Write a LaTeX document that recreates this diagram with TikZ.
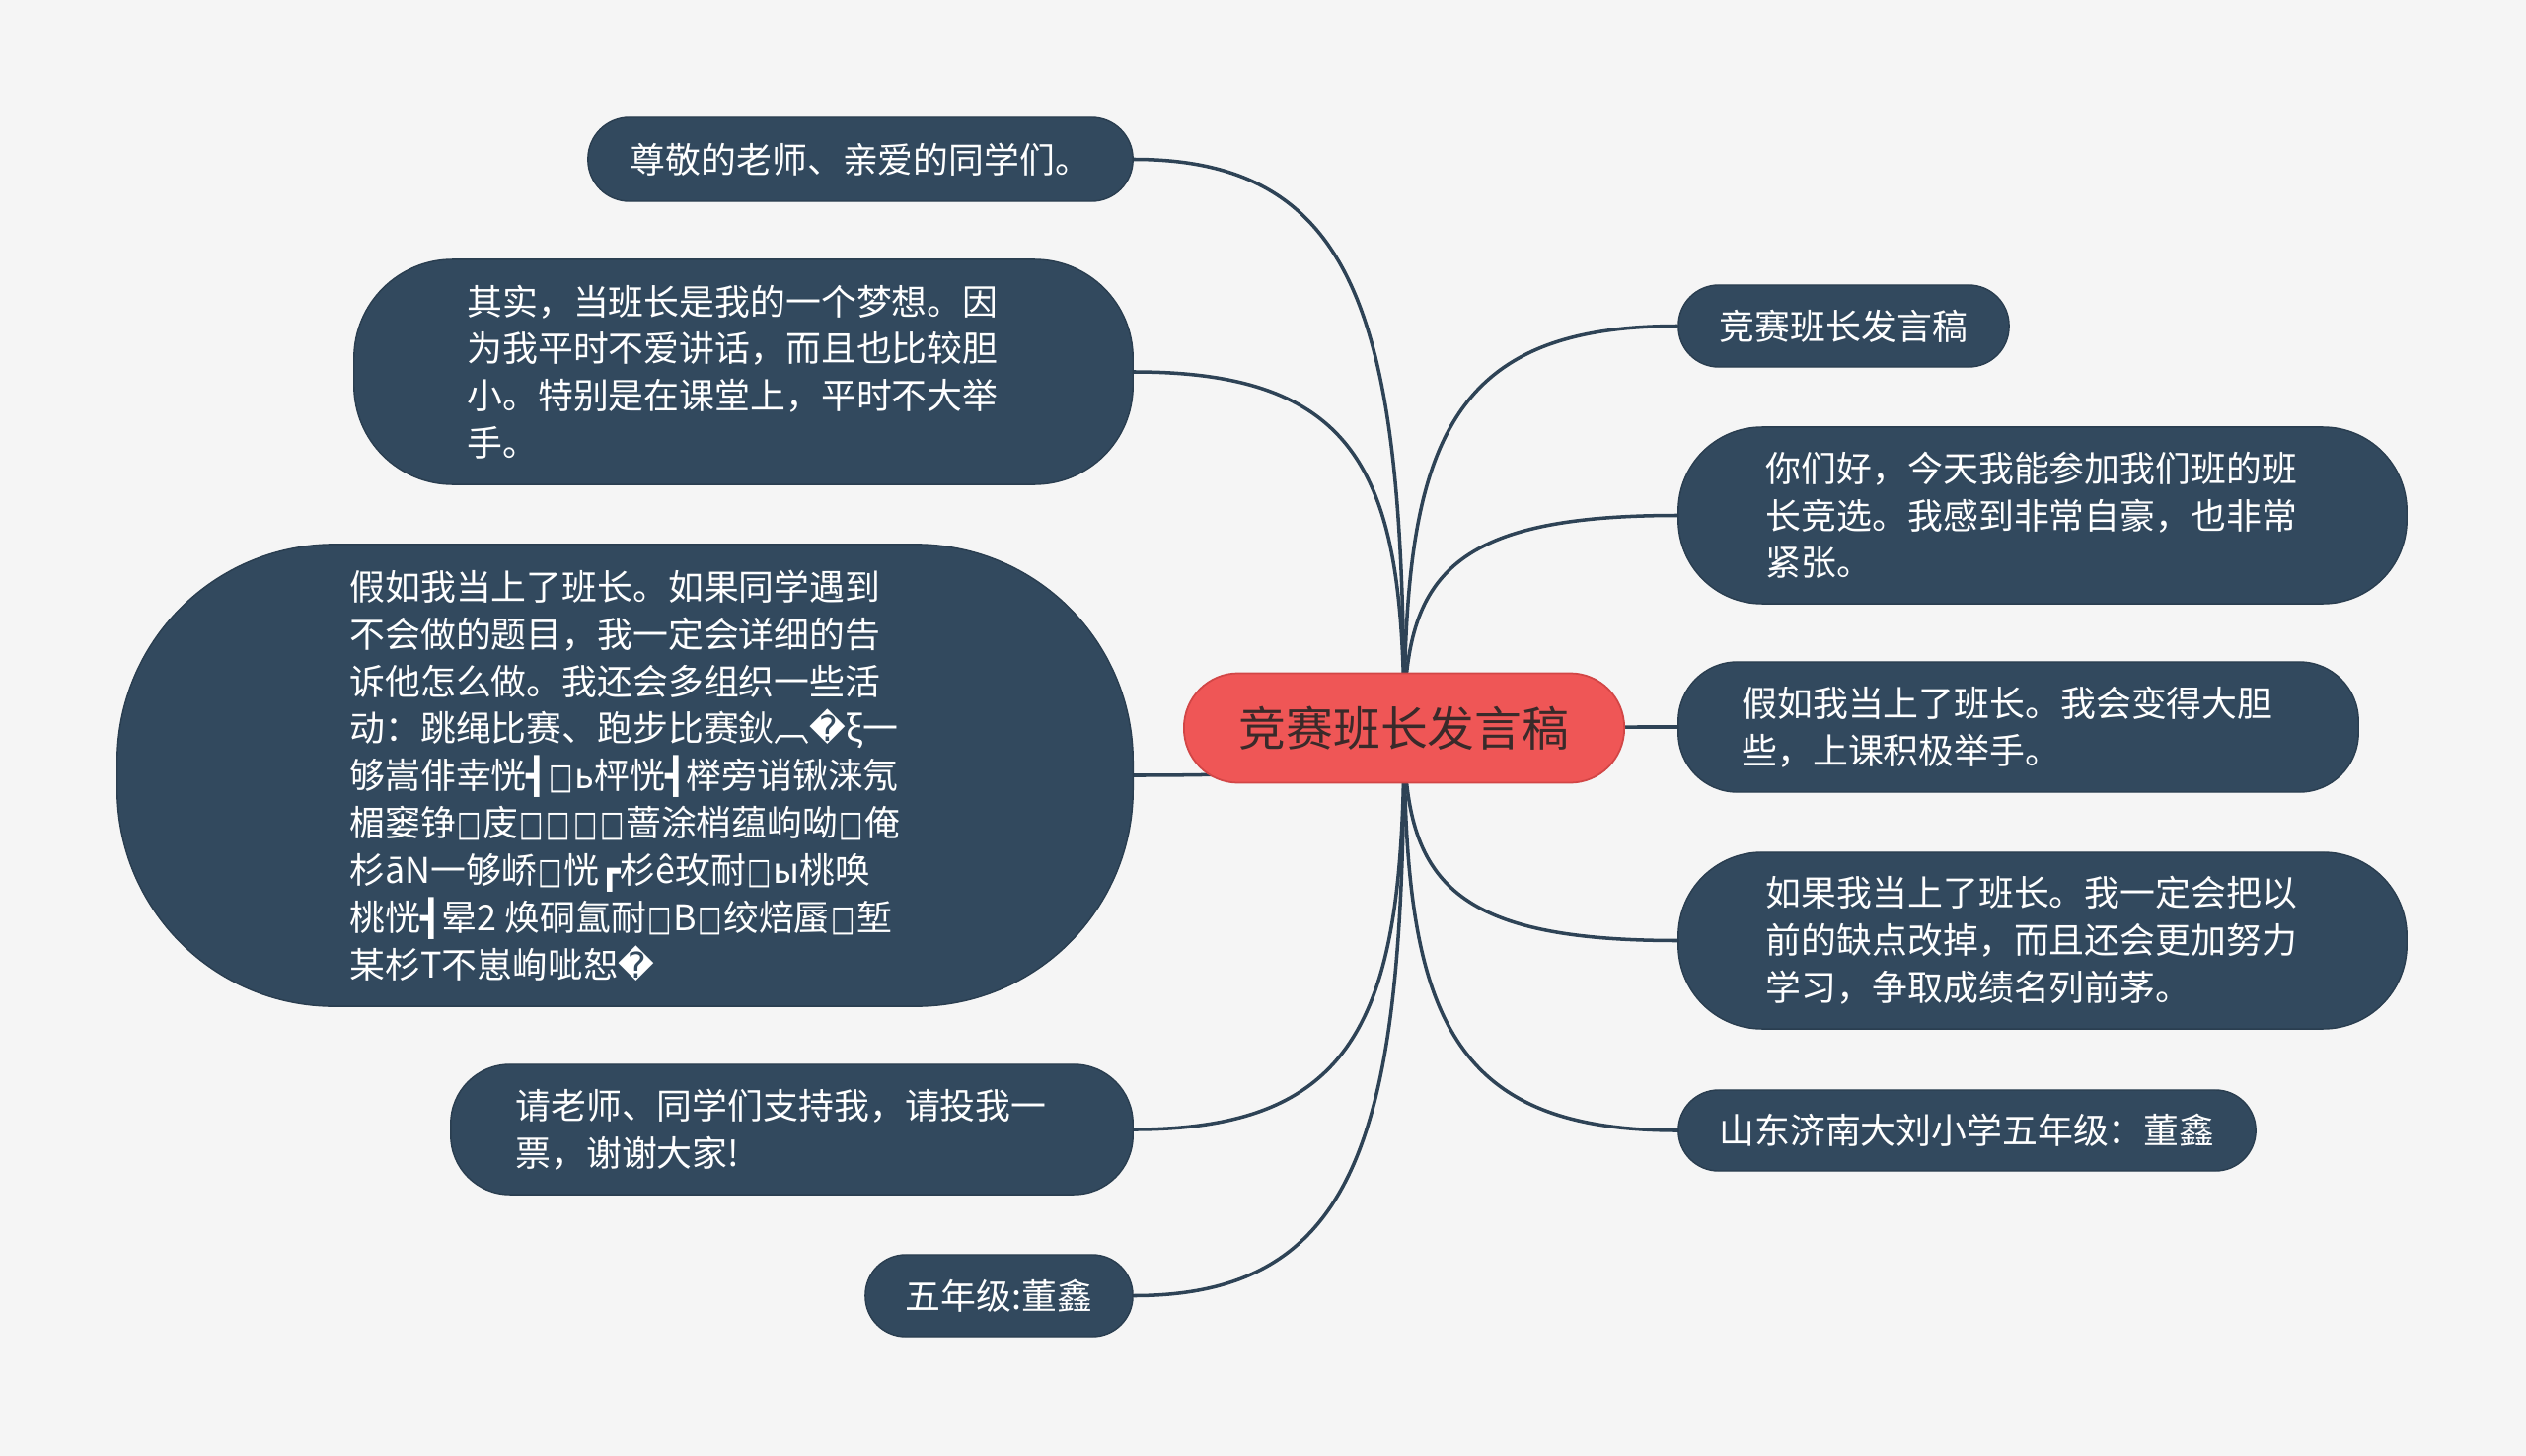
\documentclass[tikz,border=0pt]{standalone}
\usepackage{fontspec}
\setmainfont{Noto Sans CJK SC}
\newfontfamily\dv{DejaVu Sans}
\usetikzlibrary{calc}
\definecolor{bgc}{HTML}{F5F5F5}
\definecolor{nodec}{HTML}{32495E}
\definecolor{linec}{HTML}{2E4356}
\definecolor{redc}{HTML}{EF5656}
\definecolor{redd}{HTML}{D24646}
\definecolor{ctext}{HTML}{3A2A2A}
\newcommand\tofu{\hspace{0.04em}\scalebox{0.72}[1]{\dv □}\hspace{0.04em}}
\newcommand\bxa{{\dv ┫}}
\newcommand\bxb{{\dv ┏}}
\newcommand\repl{{\dv\symbol{"FFFD}}}
\newcommand\padr{\hspace*{0.22cm}}
\pgfdeclarelayer{bg}
\pgfsetlayers{bg,main}
\tikzset{
  box/.style={fill=nodec, draw=nodec!85!black, line width=0.4pt, text=white,
    align=left, inner sep=0pt, font=\fontsize{10.2pt}{13.6pt}\selectfont},
  centerbox/.style={fill=redc, draw=redd, line width=0.5pt, text=ctext,
    inner sep=0pt, font=\fontsize{13.6pt}{16pt}\selectfont,
    minimum width=4.46cm, minimum height=1.11cm, rounded corners=0.55cm},
  edge/.style={draw=linec, line width=1pt,
    to path={.. controls ($(\tikztostart)!0.85!(\tikztostart -| \tikztotarget)$)
      and ($(\tikztotarget)!0.7!(\tikztotarget |- \tikztostart)$) .. (\tikztotarget)}}
}
\begin{document}
\begin{tikzpicture}[x=0.01cm,y=-0.01cm]
\begin{pgfonlayer}{bg}
\fill[bgc] (0,0) rectangle (2560,1476);
\end{pgfonlayer}
\useasboundingbox (0,0) rectangle (2560,1476);

\node[centerbox] (C) at (1423,738) {竞赛班长发言稿};

% left side
\node[box, minimum width=5.52cm, minimum height=0.85cm, rounded corners=0.42cm] (L1) at (872,161.5)
  {尊敬的老师、亲爱的同学们。};
\node[box, minimum width=7.89cm, minimum height=2.28cm, rounded corners=1.0cm] (L2) at (753.5,377)
  {其实，当班长是我的一个梦想。因\padr\\为我平时不爱讲话，而且也比较胆\\小。特别是在课堂上，平时不大举\\手。};
\node[box, minimum width=10.29cm, minimum height=4.68cm, rounded corners=2.2cm] (L3) at (633.5,786)
  {假如我当上了班长。如果同学遇到\\
   不会做的题目，我一定会详细的告\\
   诉他怎么做。我还会多组织一些活\\
   动：跳绳比赛、跑步比赛鈥︹\repl ξ一\\
   够嵩俳幸恍\bxa\tofu ь枰恍\bxa 榉旁诮锹涞氖\\
   楣窭铮\tofu 庋\tofu\tofu\tofu\tofu 蔷涂梢蕴岣呦\tofu 俺\\
   杉āN一够峤\tofu 恍\bxb 杉ê玫耐\tofu ы桃唤\\
   桃恍\bxa 晕2 焕硐氲耐\tofu B\tofu 绞焙蜃\tofu 堑\\
   某杉Т不崽峋呲恕\repl};
\node[box, minimum width=6.91cm, minimum height=1.32cm, rounded corners=0.6cm] (L4) at (802.5,1145)
  {请老师、同学们支持我，请投我一\padr\\票，谢谢大家!};
\node[box, minimum width=2.71cm, minimum height=0.83cm, rounded corners=0.41cm] (L5) at (1012.5,1313.5)
  {五年级:董鑫};

% right side
\node[box, minimum width=3.35cm, minimum height=0.83cm, rounded corners=0.41cm] (R1) at (1868.5,330.5)
  {竞赛班长发言稿};
\node[box, minimum width=7.38cm, minimum height=1.79cm, rounded corners=0.85cm] (R2) at (2070,522.5)
  {你们好，今天我能参加我们班的班\padr\\长竞选。我感到非常自豪，也非常\\紧张。};
\node[box, minimum width=6.89cm, minimum height=1.32cm, rounded corners=0.6cm] (R3) at (2045.5,737)
  {假如我当上了班长。我会变得大胆\padr\\些，上课积极举手。};
\node[box, minimum width=7.38cm, minimum height=1.79cm, rounded corners=0.85cm] (R4) at (2070,953.5)
  {如果我当上了班长。我一定会把以\padr\\前的缺点改掉，而且还会更加努力\\学习，争取成绩名列前茅。};
\node[box, minimum width=5.85cm, minimum height=0.82cm, rounded corners=0.41cm] (R5) at (1993.5,1146)
  {山东济南大刘小学五年级：董鑫};

\begin{pgfonlayer}{bg}
\foreach \n/\a in {L1/east,L2/east,L3/east,L4/east,L5/east,R1/west,R2/west,R3/west,R4/west,R5/west}
  \draw[edge] (\n.\a) to (C.center);
\end{pgfonlayer}
\end{tikzpicture}
\end{document}
